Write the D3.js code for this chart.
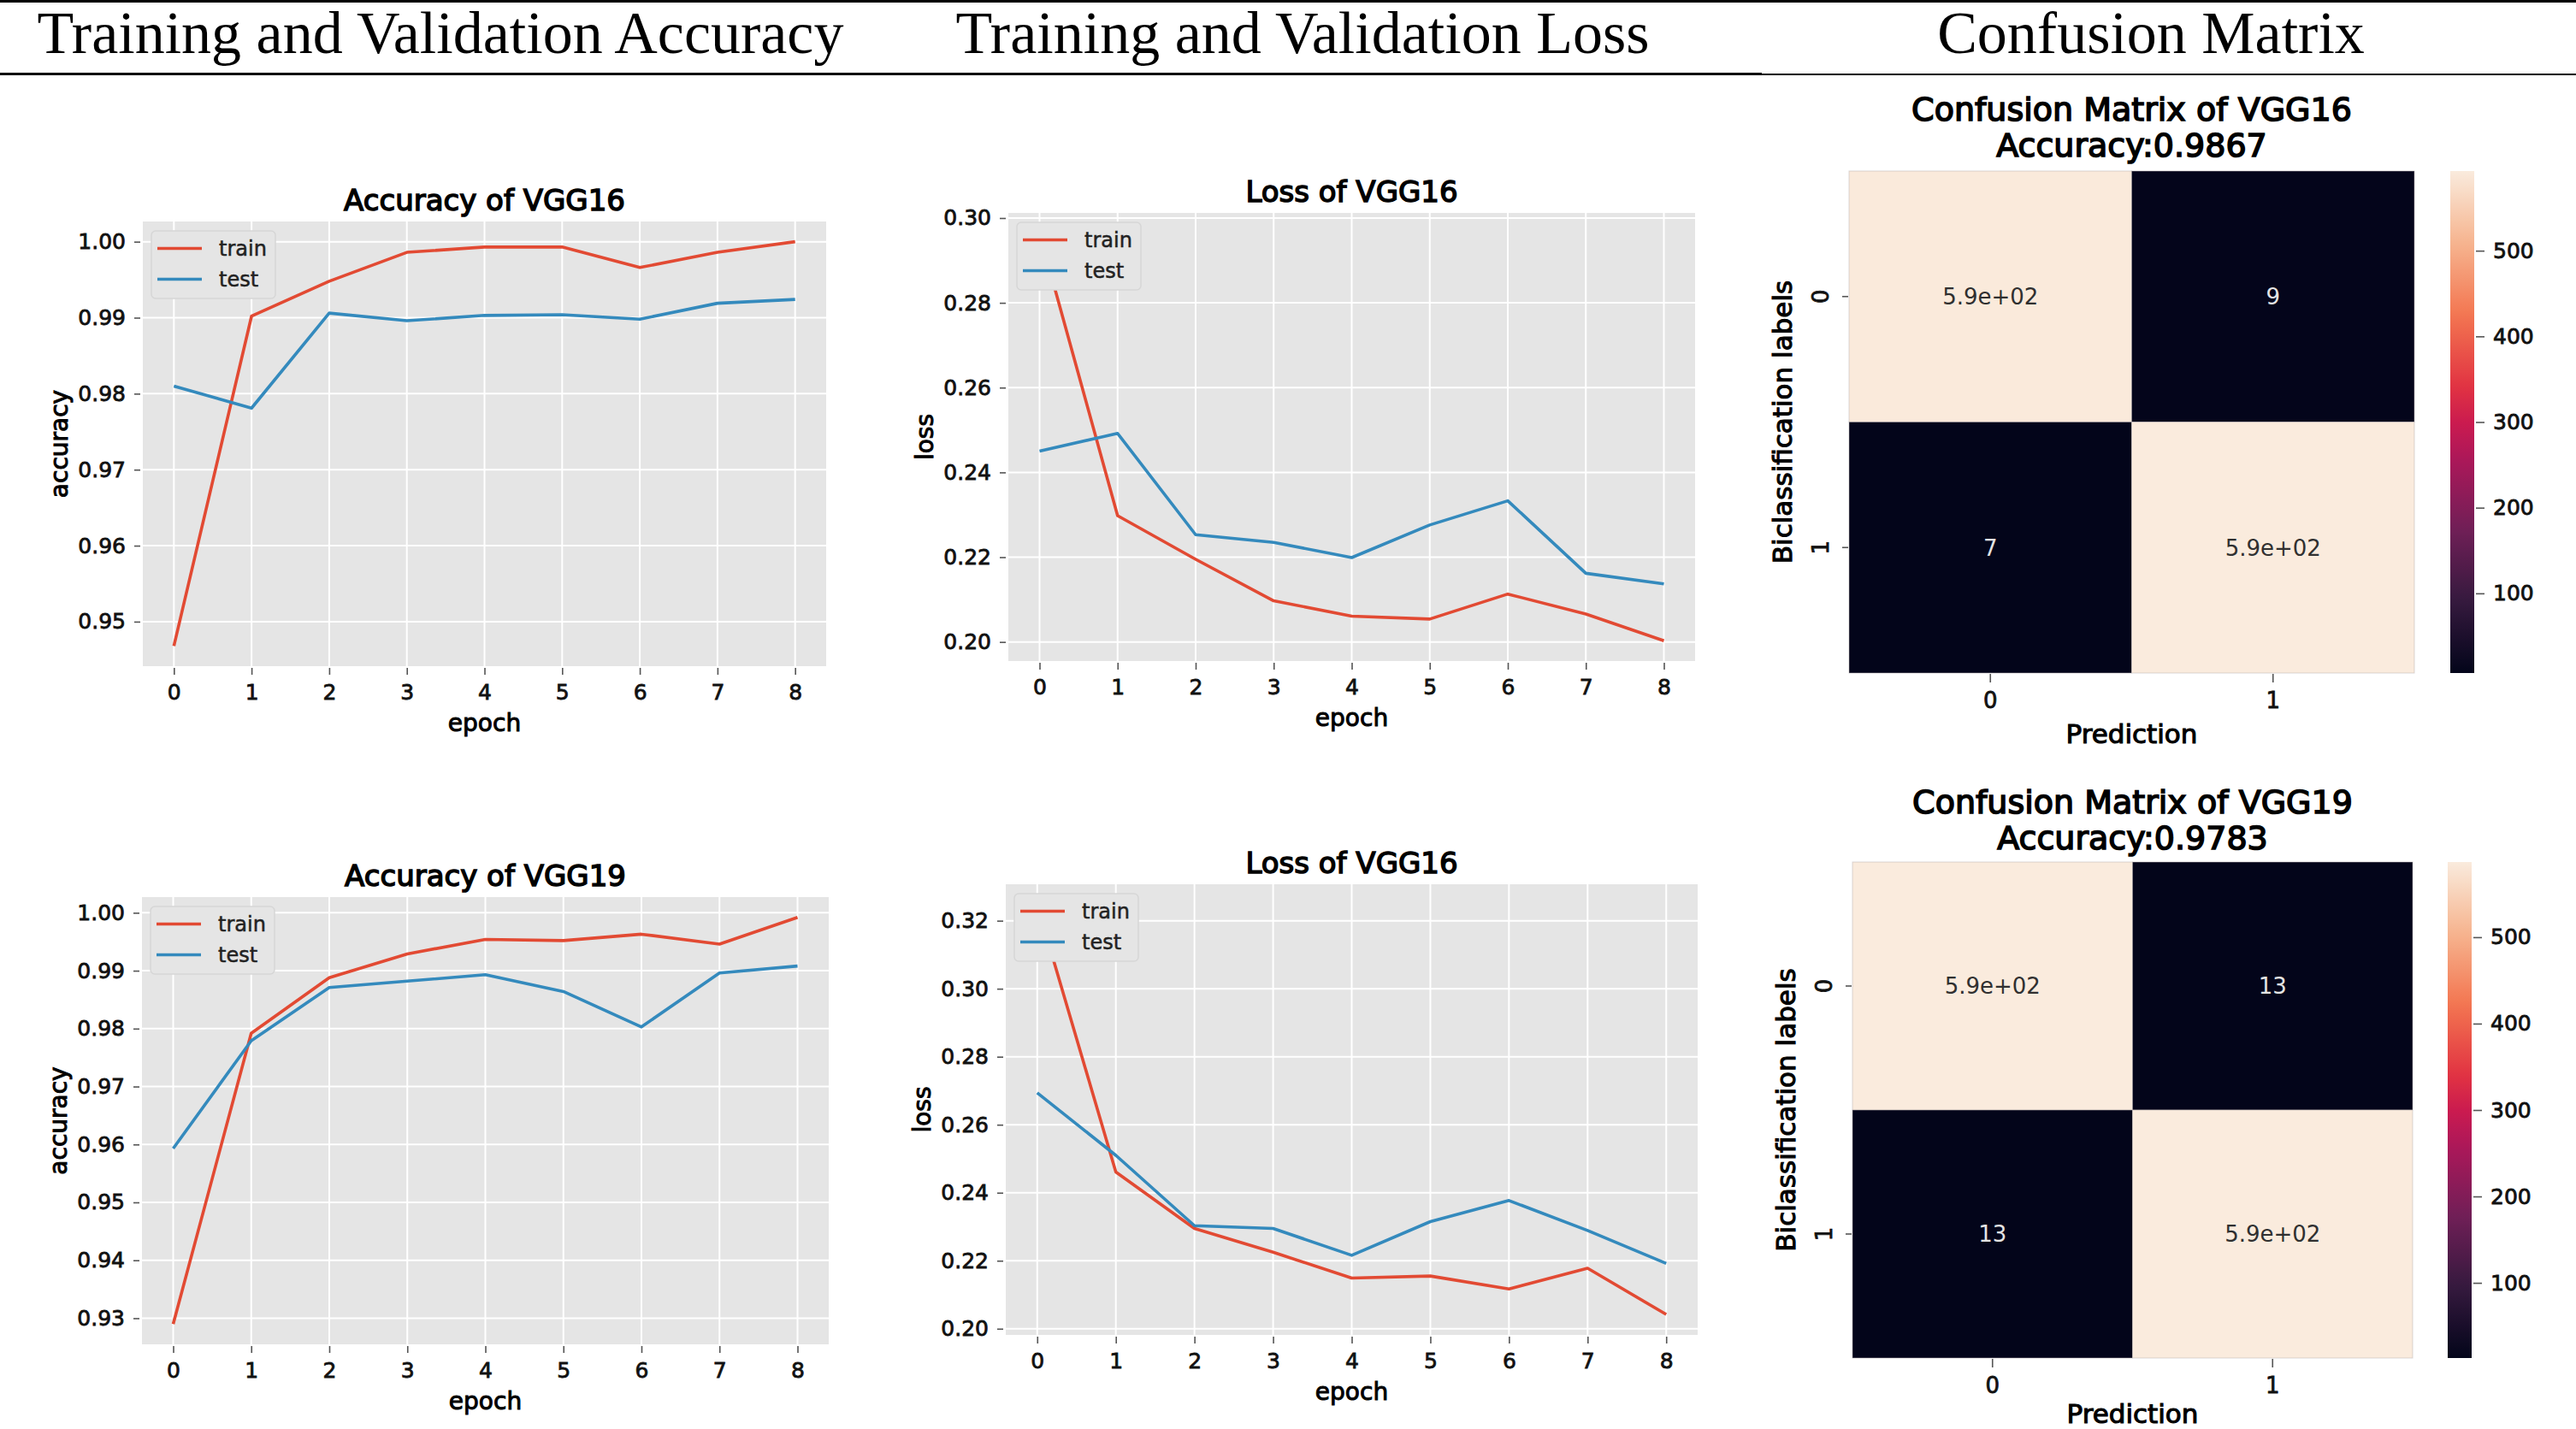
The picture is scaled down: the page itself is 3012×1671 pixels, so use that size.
<!DOCTYPE html>
<html><head><meta charset="utf-8">
<script src="https://cdn.jsdelivr.net/npm/d3@7"></script>
<style>
html,body{margin:0;padding:0;background:#fff;}
svg{display:block;}
</style></head><body>
<svg id="chart" width="3012" height="1671"></svg>
<script>
// ---------------- DATA ----------------
const epochs = [0, 1, 2, 3, 4, 5, 6, 7, 8];
const accTrainVGG16 = [0.9468, 0.9902, 0.9948, 0.9986, 0.9993, 0.9993, 0.9966, 0.9986, 1.0000];
const accTestVGG16  = [0.9810, 0.9781, 0.9906, 0.9896, 0.9903, 0.9904, 0.9898, 0.9919, 0.9924];
const lossTrainVGG16 = [0.2964, 0.2298, 0.2195, 0.2097, 0.2061, 0.2054, 0.2113, 0.2066, 0.2003];
const lossTestVGG16  = [0.2450, 0.2492, 0.2253, 0.2235, 0.2199, 0.2276, 0.2333, 0.2162, 0.2137];
const accTrainVGG19 = [0.9290, 0.9792, 0.9888, 0.9929, 0.9954, 0.9952, 0.9963, 0.9946, 0.9992];
const accTestVGG19  = [0.9593, 0.9779, 0.9871, 0.9882, 0.9893, 0.9864, 0.9803, 0.9896, 0.9908];
const lossTrainVGG19b = [0.3247, 0.2461, 0.2295, 0.2225, 0.2149, 0.2155, 0.2117, 0.2178, 0.2042];
const lossTestVGG19b  = [0.2694, 0.2510, 0.2303, 0.2295, 0.2216, 0.2315, 0.2377, 0.2289, 0.2192];
const accTicksA = [0.95, 0.96, 0.97, 0.98, 0.99, 1.00];
const accTicksB = [0.93, 0.94, 0.95, 0.96, 0.97, 0.98, 0.99, 1.00];
const lossTicksA = [0.20, 0.22, 0.24, 0.26, 0.28, 0.30];
const lossTicksB = [0.20, 0.22, 0.24, 0.26, 0.28, 0.30, 0.32];
const cmLabels = ["0", "1"];
const cmVGG16 = [[591, 9], [7, 593]];
const cmVGG19 = [[587, 13], [13, 587]];
const cbarTicks = [100, 200, 300, 400, 500];
const headerTitles = ["Training and Validation Accuracy", "Training and Validation Loss", "Confusion Matrix"];
const seriesNames = ["train", "test"];
// rocket colormap (seaborn) stops
const rocketPos = [0, 0.143, 0.286, 0.429, 0.5, 0.571, 0.714, 0.857, 1];
const rocketCol = ["#03051a", "#35193e", "#701f57", "#ad1759", "#cb1b4f", "#e13342", "#f37651", "#f6b48f", "#faebdd"];

// ---------------- STYLE ----------------
const FONT = "'DejaVu Sans', Verdana, sans-serif";
const SERIF = "'Liberation Serif', 'Times New Roman', serif";
const TRAIN_COLOR = "#E24A33", TEST_COLOR = "#348ABD";

const svg = d3.select("#chart");
svg.append("rect").attr("width", 3012).attr("height", 1671).attr("fill", "#fff");

// header
svg.append("rect").attr("x", 0).attr("y", 0).attr("width", 3012).attr("height", 3).attr("fill", "#000");
svg.append("rect").attr("x", 0).attr("y", 85).attr("width", 2060).attr("height", 3).attr("fill", "#000");
svg.append("rect").attr("x", 2060).attr("y", 86).attr("width", 952).attr("height", 2).attr("fill", "#000");
const headerX = [515, 1523, 2515];
svg.selectAll("text.hdr").data(headerTitles).join("text").attr("class", "hdr")
  .attr("x", (d, i) => headerX[i]).attr("y", 62)
  .attr("text-anchor", "middle").attr("font-family", SERIF).attr("font-size", 70)
  .attr("fill", "#000").text(d => d);

function bold(sel, color, w) {
  return sel.attr("stroke", color || "#000").attr("stroke-width", w || 0.9).attr("paint-order", "stroke");
}

function styleAxis(g, size) {
  g.select(".domain").remove();
  g.selectAll(".tick line").attr("stroke", "#555").attr("stroke-width", 1.6);
  bold(g.selectAll(".tick text").attr("font-family", FONT).attr("font-size", size).attr("fill", "#111"), "#111", 0.8);
}

function linePanel(cfg) {
  const {x0, x1, y0, y1, title, ylabel, train, test, yticks} = cfg;
  const g = svg.append("g");
  const x = d3.scaleLinear().domain([-0.4, 8.4]).range([x0, x1]);
  const all = train.concat(test);
  const mn = d3.min(all), mx = d3.max(all), pad = (mx - mn) * 0.05;
  const y = d3.scaleLinear().domain([mn - pad, mx + pad]).range([y1, y0]);

  g.append("rect").attr("x", x0).attr("y", y0).attr("width", x1 - x0).attr("height", y1 - y0).attr("fill", "#e5e5e5");
  g.selectAll("line.gx").data(epochs).join("line").attr("class", "gx")
    .attr("x1", d => x(d)).attr("x2", d => x(d)).attr("y1", y0).attr("y2", y1)
    .attr("stroke", "#fff").attr("stroke-width", 2);
  g.selectAll("line.gy").data(yticks).join("line").attr("class", "gy")
    .attr("x1", x0).attr("x2", x1).attr("y1", d => y(d)).attr("y2", d => y(d))
    .attr("stroke", "#fff").attr("stroke-width", 2);

  const line = d3.line().x((d, i) => x(epochs[i])).y(d => y(d));
  [[train, TRAIN_COLOR], [test, TEST_COLOR]].forEach(([s, c]) => {
    g.append("path").datum(s).attr("d", line).attr("fill", "none")
      .attr("stroke", c).attr("stroke-width", 3.6).attr("stroke-linejoin", "round");
  });

  // axes
  const ax = g.append("g").attr("transform", `translate(0,${y1 + 2})`)
    .call(d3.axisBottom(x).tickValues(epochs).tickFormat(d3.format("d")).tickSize(8).tickPadding(11));
  styleAxis(ax, 25);
  const ay = g.append("g").attr("transform", `translate(${x0 - 3},0)`)
    .call(d3.axisLeft(y).tickValues(yticks).tickFormat(d3.format(".2f")).tickSize(7).tickPadding(10));
  styleAxis(ay, 25);

  // title & labels
  bold(g.append("text").attr("x", (x0 + x1) / 2).attr("y", y0 - 13).attr("text-anchor", "middle")
    .attr("font-family", FONT).attr("font-size", 34).attr("fill", "#000").text(title), "#000", 1.5);
  bold(g.append("text").attr("x", (x0 + x1) / 2).attr("y", y1 + 76).attr("text-anchor", "middle")
    .attr("font-family", FONT).attr("font-size", 28).attr("fill", "#000").text("epoch"), "#000", 1.0);
  bold(g.append("text").attr("transform", `translate(${x0 - 88},${(y0 + y1) / 2}) rotate(-90)`)
    .attr("text-anchor", "middle").attr("font-family", FONT).attr("font-size", 28).attr("fill", "#000").text(ylabel), "#000", 1.0);

  // legend
  const lx = x0 + 10, ly = y0 + 11;
  const lg = g.append("g").attr("transform", `translate(${lx},${ly})`);
  lg.append("rect").attr("width", 145).attr("height", 79).attr("rx", 5)
    .attr("fill", "#e5e5e5").attr("stroke", "#d6d6d6").attr("stroke-width", 1.5);
  const items = lg.selectAll("g.li").data(seriesNames).join("g").attr("class", "li")
    .attr("transform", (d, i) => `translate(0,${20.5 + i * 36})`);
  items.append("line").attr("x1", 7).attr("x2", 59).attr("y1", 0).attr("y2", 0)
    .attr("stroke", (d, i) => i === 0 ? TRAIN_COLOR : TEST_COLOR).attr("stroke-width", 3.6);
  bold(items.append("text").attr("x", 79).attr("y", 8).attr("font-family", FONT).attr("font-size", 24)
    .attr("fill", "#222").text(d => d), "#222", 0.5);
}

linePanel({x0: 167, x1: 966, y0: 259, y1: 779, title: "Accuracy of VGG16", ylabel: "accuracy",
  train: accTrainVGG16, test: accTestVGG16, yticks: accTicksA});
linePanel({x0: 1179, x1: 1982, y0: 249, y1: 773, title: "Loss of VGG16", ylabel: "loss",
  train: lossTrainVGG16, test: lossTestVGG16, yticks: lossTicksA});
linePanel({x0: 166, x1: 969, y0: 1049, y1: 1572, title: "Accuracy of VGG19", ylabel: "accuracy",
  train: accTrainVGG19, test: accTestVGG19, yticks: accTicksB});
linePanel({x0: 1176, x1: 1985, y0: 1034, y1: 1561, title: "Loss of VGG16", ylabel: "loss",
  train: lossTrainVGG19b, test: lossTestVGG19b, yticks: lossTicksB});

// ---------------- CONFUSION MATRICES ----------------
const rocket = d3.scaleLinear().domain(rocketPos).range(rocketCol).interpolate(d3.interpolateRgb).clamp(true);

function fmtG2(v) {
  if (v === 0) return "0";
  const e = Math.floor(Math.log10(Math.abs(v)));
  if (e < -4 || e >= 2) {
    let s = v.toExponential(1);
    return s.replace(/e([+-])(\d)$/, "e$10$2");
  }
  return String(Number(v.toPrecision(2)));
}

let gradId = 0;
function cmPanel(cfg) {
  const {x0, x1, y0, y1, cbx0, cbx1, t1, t2, predY, title, acc, m} = cfg;
  const g = svg.append("g");
  const flat = m.flat();
  const vmin = d3.min(flat), vmax = d3.max(flat);
  const norm = d3.scaleLinear().domain([vmin, vmax]).range([0, 1]);
  const xb = d3.scaleBand().domain(cmLabels).range([x0, x1]);
  const yb = d3.scaleBand().domain(cmLabels).range([y0, y1]);
  const cells = [];
  m.forEach((row, r) => row.forEach((v, c) => cells.push({r, c, v})));
  g.selectAll("rect.cell").data(cells).join("rect").attr("class", "cell")
    .attr("x", d => xb(cmLabels[d.c])).attr("y", d => yb(cmLabels[d.r]))
    .attr("width", xb.bandwidth()).attr("height", yb.bandwidth())
    .attr("fill", d => rocket(norm(d.v)))
    .attr("stroke", "#b8b0b0").attr("stroke-opacity", 0.5).attr("stroke-width", 1);
  g.selectAll("text.ann").data(cells).join("text").attr("class", "ann")
    .attr("x", d => xb(cmLabels[d.c]) + xb.bandwidth() / 2)
    .attr("y", d => yb(cmLabels[d.r]) + yb.bandwidth() / 2)
    .attr("dy", "0.36em").attr("text-anchor", "middle")
    .attr("font-family", FONT).attr("font-size", 26)
    .attr("fill", d => norm(d.v) > 0.5 ? "#303030" : "#e4e4e4")
    .text(d => fmtG2(d.v));

  // axes
  const ax = g.append("g").attr("transform", `translate(0,${y1 + 1})`)
    .call(d3.axisBottom(xb).tickSize(10).tickPadding(12));
  styleAxis(ax, 26);
  const ay = g.append("g").attr("transform", `translate(${x0 - 1},0)`)
    .call(d3.axisLeft(yb).tickSize(7).tickPadding(0));
  styleAxis(ay, 26);
  ay.selectAll(".tick text").attr("x", null).attr("dy", null)
    .attr("text-anchor", "middle")
    .attr("transform", "translate(-23,0) rotate(-90)");

  // colorbar
  const id = "cbg" + (gradId++);
  const grad = svg.append("defs").append("linearGradient").attr("id", id)
    .attr("x1", 0).attr("x2", 0).attr("y1", 1).attr("y2", 0);
  grad.selectAll("stop").data(d3.range(0, 1.0001, 0.02)).join("stop")
    .attr("offset", d => d).attr("stop-color", d => rocket(d));
  g.append("rect").attr("x", cbx0).attr("y", y0).attr("width", cbx1 - cbx0).attr("height", y1 - y0)
    .attr("fill", `url(#${id})`);
  const cb = d3.scaleLinear().domain([vmin, vmax]).range([y1, y0]);
  const ac = g.append("g").attr("transform", `translate(${cbx1 + 2},0)`)
    .call(d3.axisRight(cb).tickValues(cbarTicks).tickSize(10).tickPadding(10));
  styleAxis(ac, 25);

  // titles & labels
  const cx = (x0 + x1) / 2;
  bold(g.append("text").attr("x", cx).attr("y", t1).attr("text-anchor", "middle")
    .attr("font-family", FONT).attr("font-size", 38).attr("fill", "#000").text(title), "#000", 1.6);
  bold(g.append("text").attr("x", cx).attr("y", t2).attr("text-anchor", "middle")
    .attr("font-family", FONT).attr("font-size", 38).attr("fill", "#000").text(acc), "#000", 1.6);
  bold(g.append("text").attr("x", cx).attr("y", predY).attr("text-anchor", "middle")
    .attr("font-family", FONT).attr("font-size", 31).attr("fill", "#000").text("Prediction"), "#000", 1.1);
  bold(g.append("text").attr("transform", `translate(${x0 - 67},${(y0 + y1) / 2}) rotate(-90)`)
    .attr("text-anchor", "middle").attr("font-family", FONT).attr("font-size", 31)
    .attr("fill", "#000").text("Biclassification labels"), "#000", 1.1);
}

cmPanel({x0: 2162, x1: 2823, y0: 200, y1: 787, cbx0: 2865, cbx1: 2893, t1: 141, t2: 183, predY: 869,
  title: "Confusion Matrix of VGG16", acc: "Accuracy:0.9867", m: cmVGG16});
cmPanel({x0: 2166, x1: 2821, y0: 1008, y1: 1588, cbx0: 2862, cbx1: 2890, t1: 951, t2: 993, predY: 1664,
  title: "Confusion Matrix of VGG19", acc: "Accuracy:0.9783", m: cmVGG19});
</script>
</body></html>
